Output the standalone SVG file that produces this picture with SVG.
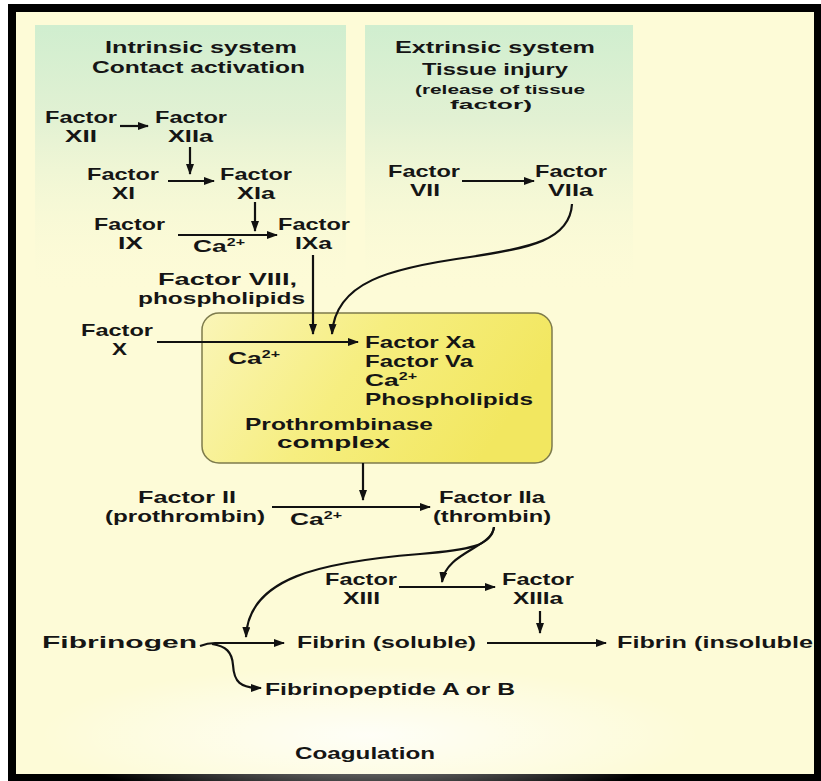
<svg xmlns="http://www.w3.org/2000/svg" width="821" height="781" viewBox="0 0 821 781">
<defs>
<linearGradient id="panelG" x1="0" y1="0" x2="0" y2="1">
<stop offset="0" stop-color="#d0eecf"/>
<stop offset="0.35" stop-color="#e2f1d3"/>
<stop offset="1" stop-color="#fdfbd7" stop-opacity="0"/>
</linearGradient>
<linearGradient id="boxG" x1="0" y1="0" x2="1" y2="0.3">
<stop offset="0" stop-color="#faf5b8"/>
<stop offset="0.5" stop-color="#f6ee80"/>
<stop offset="1" stop-color="#f2e760"/>
</linearGradient>
<radialGradient id="glow" cx="0.5" cy="0.5" r="0.5">
<stop offset="0" stop-color="#ffffff" stop-opacity="0.8"/>
<stop offset="1" stop-color="#ffffff" stop-opacity="0"/>
</radialGradient>
<marker id="ah" markerUnits="userSpaceOnUse" markerWidth="12" markerHeight="9" refX="10" refY="4" orient="auto">
<path d="M0,0 L11,4 L0,8 z" fill="#111"/>
</marker>
</defs>
<style>
text{font-family:"Liberation Sans",Arial,sans-serif;font-weight:bold;font-size:16.5px;fill:#151515}
.sm{font-size:13.5px}
.sup{font-size:10px}
.c{fill:none;stroke:#111;stroke-width:2.2}
.a{marker-end:url(#ah)}
</style>
<rect x="0" y="0" width="821" height="781" fill="#ffffff"/>
<rect x="8" y="4" width="813" height="777" fill="#000"/>
<rect x="16" y="12" width="798" height="762" fill="#fdfbd7"/>
<ellipse cx="370" cy="735" rx="330" ry="70" fill="url(#glow)"/>
<rect x="35" y="25" width="311" height="270" fill="url(#panelG)"/>
<rect x="365" y="25" width="268" height="270" fill="url(#panelG)"/>

<g id="prothrombinase-complex">
<rect x="202" y="313" width="350" height="150" rx="17" fill="url(#boxG)" stroke="#7d7b4c" stroke-width="1.5"/>
<text x="228" y="364" textLength="52" lengthAdjust="spacingAndGlyphs">Ca<tspan class="sup" dy="-6">2+</tspan></text>
<text x="365" y="348" textLength="110" lengthAdjust="spacingAndGlyphs">Factor Xa</text>
<text x="365" y="367" textLength="108" lengthAdjust="spacingAndGlyphs">Factor Va</text>
<text x="365" y="386" textLength="52" lengthAdjust="spacingAndGlyphs">Ca<tspan class="sup" dy="-6">2+</tspan></text>
<text x="365" y="405" textLength="168" lengthAdjust="spacingAndGlyphs">Phospholipids</text>
<text x="245" y="430" textLength="188" lengthAdjust="spacingAndGlyphs">Prothrombinase</text>
<text x="277" y="448" textLength="113" lengthAdjust="spacingAndGlyphs">complex</text>
</g>

<g id="connectors">
<path class="c a" d="M120,126 H148"/>
<path class="c a" d="M190,147 V174"/>
<path class="c a" d="M168,181 H214"/>
<path class="c a" d="M255,202 V231"/>
<path class="c a" d="M178,235 H277"/>
<path class="c a" d="M313,255 V334"/>
<path class="c a" d="M462,181 H534"/>
<path class="c a" d="M572,204 C570,240 530,248 470,257 C390,268 335,282 332,334"/>
<path class="c a" d="M157,342 H358"/>
<path class="c a" d="M363,463 V500"/>
<path class="c a" d="M272,507 H430"/>
<path class="c a" d="M494,527 C492,546 468,550 420,554 C320,562 248,578 246,637"/>
<path class="c a" d="M494,527 C492,548 446,552 442,582"/>
<path class="c a" d="M399,587 H495"/>
<path class="c a" d="M540,611 V633"/>
<path class="c a" d="M200,646 C205,644 210,643 215,643 H284"/>
<path class="c a" d="M212,644 C226,646 232,652 233,665 C234,682 240,688 261,688"/>
<path class="c a" d="M487,643 H606"/>
</g>

<g id="intrinsic-header">
<text x="105" y="53" textLength="192" lengthAdjust="spacingAndGlyphs">Intrinsic system</text>
<text x="92" y="73" textLength="213" lengthAdjust="spacingAndGlyphs">Contact activation</text>
</g>
<g id="factor-xii">
<text x="45" y="123" textLength="72" lengthAdjust="spacingAndGlyphs">Factor</text>
<text x="65" y="142" textLength="32" lengthAdjust="spacingAndGlyphs">XII</text>
</g>
<g id="factor-xiia">
<text x="155" y="123" textLength="72" lengthAdjust="spacingAndGlyphs">Factor</text>
<text x="168" y="142" textLength="45" lengthAdjust="spacingAndGlyphs">XIIa</text>
</g>
<g id="factor-xi">
<text x="87" y="180" textLength="72" lengthAdjust="spacingAndGlyphs">Factor</text>
<text x="112" y="199" textLength="23" lengthAdjust="spacingAndGlyphs">XI</text>
</g>
<g id="factor-xia">
<text x="220" y="180" textLength="72" lengthAdjust="spacingAndGlyphs">Factor</text>
<text x="237" y="199" textLength="38" lengthAdjust="spacingAndGlyphs">XIa</text>
</g>
<g id="factor-ix">
<text x="94" y="230" textLength="71" lengthAdjust="spacingAndGlyphs">Factor</text>
<text x="118" y="249" textLength="25" lengthAdjust="spacingAndGlyphs">IX</text>
</g>
<g id="ca-ix">
<text x="193" y="252" textLength="52" lengthAdjust="spacingAndGlyphs">Ca<tspan class="sup" dy="-6">2+</tspan></text>
</g>
<g id="factor-ixa">
<text x="278" y="230" textLength="72" lengthAdjust="spacingAndGlyphs">Factor</text>
<text x="295" y="249" textLength="37" lengthAdjust="spacingAndGlyphs">IXa</text>
</g>
<g id="factor-viii">
<text x="158" y="285" textLength="139" lengthAdjust="spacingAndGlyphs">Factor VIII,</text>
<text x="138" y="304" textLength="167" lengthAdjust="spacingAndGlyphs">phospholipids</text>
</g>
<g id="factor-x">
<text x="81" y="336" textLength="72" lengthAdjust="spacingAndGlyphs">Factor</text>
<text x="112" y="355" textLength="15" lengthAdjust="spacingAndGlyphs">X</text>
</g>

<g id="extrinsic-header">
<text x="395" y="53" textLength="200" lengthAdjust="spacingAndGlyphs">Extrinsic system</text>
<text x="422" y="75" textLength="146" lengthAdjust="spacingAndGlyphs">Tissue injury</text>
<text class="sm" x="415" y="94" textLength="170" lengthAdjust="spacingAndGlyphs">(release of tissue</text>
<text class="sm" x="450" y="109" textLength="82" lengthAdjust="spacingAndGlyphs">factor)</text>
</g>
<g id="factor-vii">
<text x="388" y="177" textLength="72" lengthAdjust="spacingAndGlyphs">Factor</text>
<text x="410" y="196" textLength="30" lengthAdjust="spacingAndGlyphs">VII</text>
</g>
<g id="factor-viia">
<text x="535" y="177" textLength="72" lengthAdjust="spacingAndGlyphs">Factor</text>
<text x="548" y="196" textLength="45" lengthAdjust="spacingAndGlyphs">VIIa</text>
</g>

<g id="factor-ii">
<text x="138" y="503" textLength="98" lengthAdjust="spacingAndGlyphs">Factor II</text>
<text x="105" y="522" textLength="160" lengthAdjust="spacingAndGlyphs">(prothrombin)</text>
</g>
<g id="ca-ii">
<text x="290" y="525" textLength="52" lengthAdjust="spacingAndGlyphs">Ca<tspan class="sup" dy="-6">2+</tspan></text>
</g>
<g id="factor-iia">
<text x="439" y="503" textLength="106" lengthAdjust="spacingAndGlyphs">Factor IIa</text>
<text x="433" y="522" textLength="118" lengthAdjust="spacingAndGlyphs">(thrombin)</text>
</g>
<g id="factor-xiii">
<text x="325" y="585" textLength="72" lengthAdjust="spacingAndGlyphs">Factor</text>
<text x="343" y="604" textLength="37" lengthAdjust="spacingAndGlyphs">XIII</text>
</g>
<g id="factor-xiiia">
<text x="502" y="585" textLength="72" lengthAdjust="spacingAndGlyphs">Factor</text>
<text x="513" y="604" textLength="50" lengthAdjust="spacingAndGlyphs">XIIIa</text>
</g>
<g id="fibrinogen">
<text x="42" y="648" textLength="155" lengthAdjust="spacingAndGlyphs">Fibrinogen</text>
</g>
<g id="fibrin-soluble">
<text x="297" y="648" textLength="179" lengthAdjust="spacingAndGlyphs">Fibrin (soluble)</text>
</g>
<g id="fibrin-insoluble">
<text x="617" y="648" textLength="196" lengthAdjust="spacingAndGlyphs">Fibrin (insoluble</text>
</g>
<g id="fibrinopeptide">
<text x="265" y="695" textLength="250" lengthAdjust="spacingAndGlyphs">Fibrinopeptide A or B</text>
</g>
<g id="coagulation">
<text x="295" y="759" textLength="140" lengthAdjust="spacingAndGlyphs">Coagulation</text>
</g>
<rect x="814" y="4" width="7" height="777" fill="#000"/>
</svg>
